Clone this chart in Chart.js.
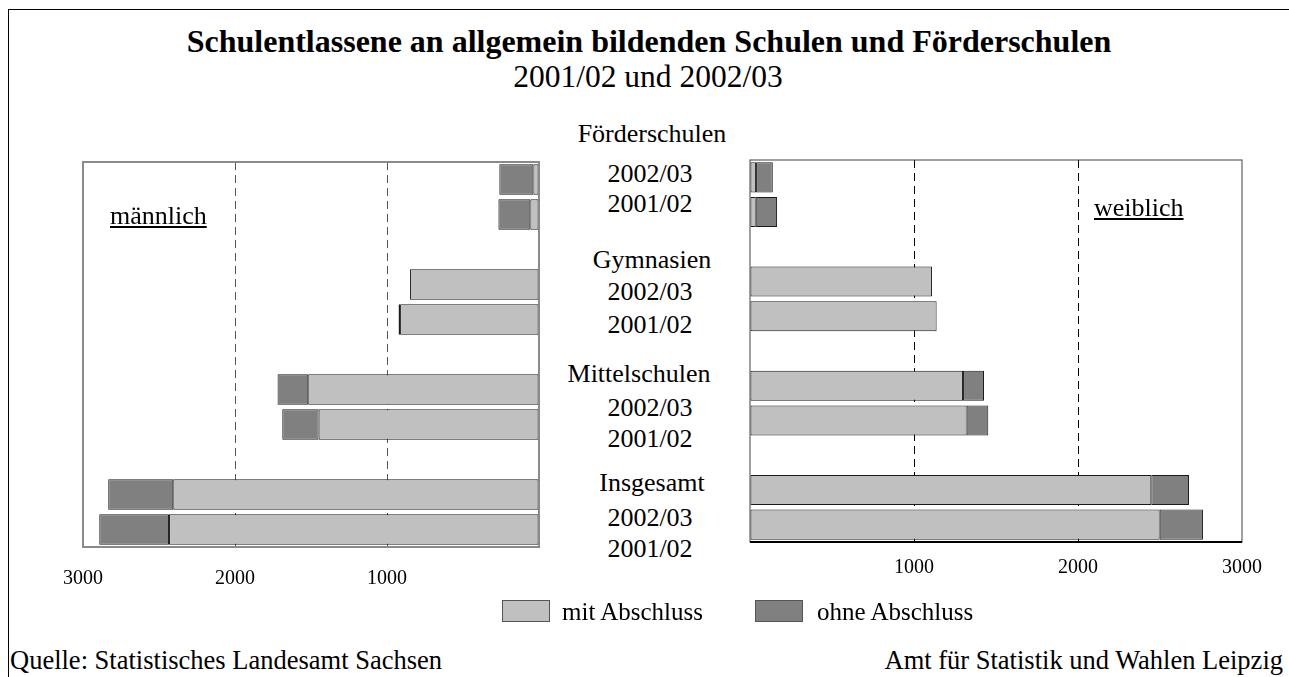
<!DOCTYPE html>
<html lang="de">
<head>
<meta charset="utf-8">
<title>Schulentlassene</title>
<script src="https://cdn.jsdelivr.net/npm/chart.js@4"></script>
<style>
  body { margin: 0; width: 1289px; height: 677px; background: #fff; position: relative; overflow: hidden;
         font-family: "Liberation Serif", "Times New Roman", serif; color: #000; }
  .frame { position: absolute; left: 8px; top: 9px; width: 1300px; height: 700px;
           border-top: 1.5px solid #000; border-left: 1.5px solid #000; }
  .txt { position: absolute; white-space: nowrap; line-height: 1; }
  canvas { position: absolute; }
  .key { position: absolute; width: 46px; height: 20px; border: 1px solid #555; }
</style>
</head>
<body>
<div class="frame"></div>
<canvas id="left" width="520" height="450" style="left:40px;top:150px"></canvas>
<canvas id="right" width="569" height="450" style="left:720px;top:150px"></canvas>
<script>
// data
const groups = ['Förderschulen', 'Gymnasien', 'Mittelschulen', 'Insgesamt'];
const years = ['2002/03', '2001/02'];
const seriesNames = ['mit Abschluss', 'ohne Abschluss'];
const maleMit    = [37, 57, null, 849, 914, null, 1518, 1450, null, 2406, 2434];
const maleOhne   = [224, 210, null, 0, 10, null, 202, 239, null, 428, 459];
const femaleMit  = [37, 35, null, 1110, 1138, null, 1299, 1321, null, 2447, 2498];
const femaleOhne = [102, 130, null, 0, 0, null, 128, 132, null, 230, 264];
const xMax = 3000;
const xStep = 1000;

const FONT = '"Liberation Serif", "Times New Roman", serif';
const colMit = '#c0c0c0';
const colOhne = '#808080';

// one category per bar, with an empty slot between the groups
const slots = [];
groups.forEach((g, i) => {
  years.forEach(y => slots.push(g + ' ' + y));
  if (i < groups.length - 1) slots.push('');
});

// text helper: places text by its baseline
function addText(str, x, baseline, size, align, extra) {
  const d = document.createElement('div');
  d.className = 'txt';
  d.textContent = str;
  d.style.fontSize = size + 'px';
  d.style.top = (baseline - 0.8375 * size) + 'px';
  if (align === 'center') { d.style.left = x + 'px'; d.style.transform = 'translateX(-50%)'; }
  else if (align === 'right') { d.style.right = (1289 - x) + 'px'; }
  else d.style.left = x + 'px';
  if (extra) Object.assign(d.style, extra);
  document.body.appendChild(d);
}

addText('Schulentlassene an allgemein bildenden Schulen und Förderschulen', 649, 52, 32, 'center', { fontWeight: 'bold' });
addText(years[1] + ' und ' + years[0], 648, 87, 31.5, 'center');

// labels between the two charts
const labelBase = [[143, 183, 213], [269, 301, 334], [383, 417, 448], [492, 527, 558]];
const labelX = [652, 652, 639, 652];
groups.forEach((g, i) => {
  addText(g, labelX[i], labelBase[i][0], 26, 'center');
  years.forEach((y, j) => addText(y, 650, labelBase[i][j + 1], 26, 'center'));
});

addText('männlich', 110, 225, 26, 'left', { textDecoration: 'underline' });
addText('weiblich', 1094, 217, 26, 'left', { textDecoration: 'underline' });

// legend
[[502, 562], [755, 817]].forEach((p, i) => {
  const k = document.createElement('div');
  k.className = 'key';
  k.style.left = p[0] + 'px';
  k.style.top = '600px';
  k.style.background = i === 0 ? colMit : colOhne;
  document.body.appendChild(k);
  addText(seriesNames[i], p[1], 620, 25, 'left');
});

addText('Quelle: Statistisches Landesamt Sachsen', 10, 669, 26.5, 'left');
addText('Amt für Statistik und Wahlen Leipzig', 1283, 669, 26.5, 'right');

const framePlugin = {
  id: 'frame',
  afterDatasetsDraw(chart, args, opts) {
    const { ctx, chartArea: a } = chart;
    ctx.save();
    ctx.strokeStyle = opts.color;
    ctx.lineWidth = opts.width;
    ctx.strokeRect(a.left, a.top, a.right - a.left, a.bottom - a.top);
    if (opts.bottom) {
      ctx.strokeStyle = '#000';
      ctx.lineWidth = opts.bottom;
      ctx.beginPath();
      ctx.moveTo(a.left, a.bottom);
      ctx.lineTo(a.right, a.bottom);
      ctx.stroke();
    }
    ctx.restore();
  }
};

function datasets(mit, ohne) {
  const base = { borderColor: '#1a1a1a', borderWidth: 1, borderSkipped: false,
                 barPercentage: 1, categoryPercentage: 0.865 };
  return [
    Object.assign({ label: seriesNames[0], data: mit, backgroundColor: colMit }, base),
    Object.assign({ label: seriesNames[1], data: ohne, backgroundColor: colOhne }, base)
  ];
}

function options(reverse, padding, gridColor, tickPad, axisH, frame) {
  return {
    responsive: false,
    animation: false,
    indexAxis: 'y',
    layout: { padding },
    plugins: { legend: { display: false }, tooltip: { enabled: false }, frame },
    scales: {
      x: {
        stacked: true, reverse, min: 0, max: xMax,
        ticks: { stepSize: xStep, padding: tickPad, color: '#000', maxRotation: 0, autoSkip: false,
                 font: { family: FONT, size: 20 }, callback: v => v === 0 ? '' : v },
        grid: { drawTicks: false, lineWidth: 1,
                color: c => (c.tick && c.tick.value > 0 && c.tick.value < xMax) ? gridColor : 'rgba(0,0,0,0)' },
        border: { display: false, dash: [8, 5] },
        afterFit: s => { s.height = axisH; }
      },
      y: { stacked: true, display: false }
    }
  };
}

new Chart(document.getElementById('left'), {
  type: 'bar',
  data: { labels: slots, datasets: datasets(maleMit, maleOhne) },
  options: options(true, { left: 43, right: 21, top: 12, bottom: 13 }, '#555', 20, 40,
                   { color: '#8a8a8a', width: 2 }),
  plugins: [framePlugin]
});

new Chart(document.getElementById('right'), {
  type: 'bar',
  data: { labels: slots, datasets: datasets(femaleMit, femaleOhne) },
  options: options(false, { left: 30, right: 47, top: 10, bottom: 18 }, '#000', 14, 40,
                   { color: '#404040', width: 1, bottom: 2 }),
  plugins: [framePlugin]
});
</script>
</body>
</html>
